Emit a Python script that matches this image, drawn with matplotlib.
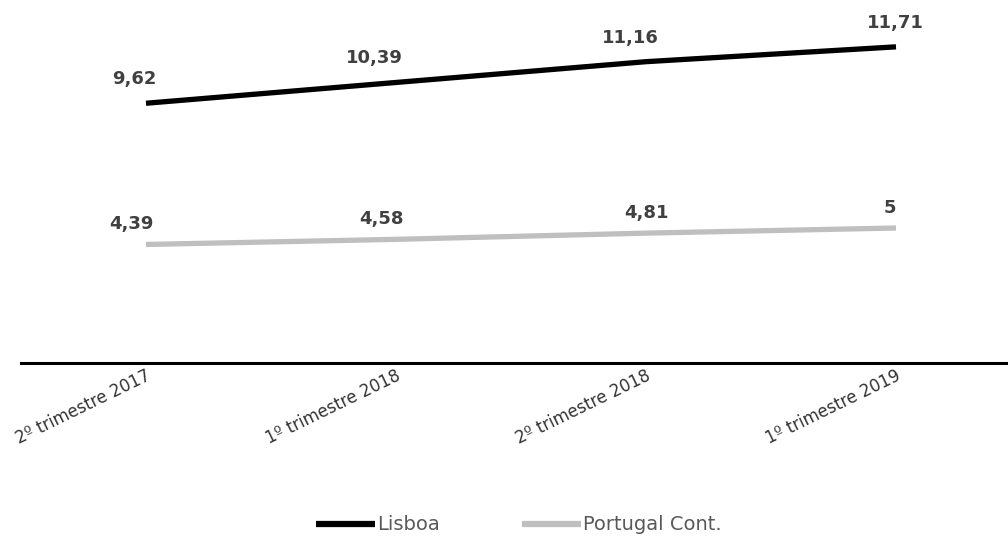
import numpy as np
import matplotlib
matplotlib.use("Agg")
import matplotlib.pyplot as plt

# Quarterly values for both regions
quarters = ["2º trimestre 2017", "1º trimestre 2018", "2º trimestre 2018", "1º trimestre 2019"]
lisboa = [9.62, 10.39, 11.16, 11.71]
portugal = [4.39, 4.58, 4.81, 5.0]
series_names = ["Lisboa", "Portugal Cont."]
series_colors = ["#000000", "#bfbfbf"]

# label nudges (pixels): horizontal per point, vertical per series
label_dx = [[-12, -22, -16, -1], [-15, -15, 0, -6]]
label_dy = [24, 20]

plt.rcParams['font.family'] = ['DejaVu Sans']

fig = plt.figure(figsize=(10.08, 5.37), dpi=100)
ax = fig.add_axes([21 / 1008, 1 - 363 / 537, 1 - 21 / 1008, 363 / 537])

px = 72 / 100   # pixels -> points
x = np.arange(len(quarters))
for k, (vals, name, col) in enumerate(zip([lisboa, portugal], series_names, series_colors)):
    ax.plot(x, vals, color=col, lw=3.8, solid_capstyle='butt', label=name)
    for i, (xi, v) in enumerate(zip(x, vals)):
        txt = ("%.2f" % v).replace(".", ",") if v != int(v) else "%d" % v
        ax.annotate(txt, (xi, v), xytext=(label_dx[k][i] * px, label_dy[k] * px),
                    textcoords='offset points', ha='center', va='center',
                    fontsize=13, fontweight='semibold', color='#404040')

ax.set_xlim(-0.5, -0.5 + 987 / 250)
ax.set_ylim(0, 363 / 27)

for s in ['top', 'right', 'left']:
    ax.spines[s].set_visible(False)
ax.spines['bottom'].set_linewidth(2.2)
ax.spines['bottom'].set_color('#000000')
ax.set_yticks([])
ax.set_xticks(x)
ax.set_xticklabels(quarters, rotation=26, ha='right', va='top',
                   rotation_mode='anchor', fontsize=12, color='#333333')
ax.tick_params(axis='x', length=0, pad=3)

leg = fig.legend(loc='center left', bbox_to_anchor=(316 / 1008, 1 - 525 / 537), ncol=2,
                 frameon=False, fontsize=14, handlelength=3.05,
                 handletextpad=0.1, columnspacing=4.2, borderpad=0, borderaxespad=0)
for t in leg.get_texts():
    t.set_color('#595959')
for h in leg.get_lines():
    h.set_linewidth(4.5)

fig.savefig("out.png", dpi=100)
